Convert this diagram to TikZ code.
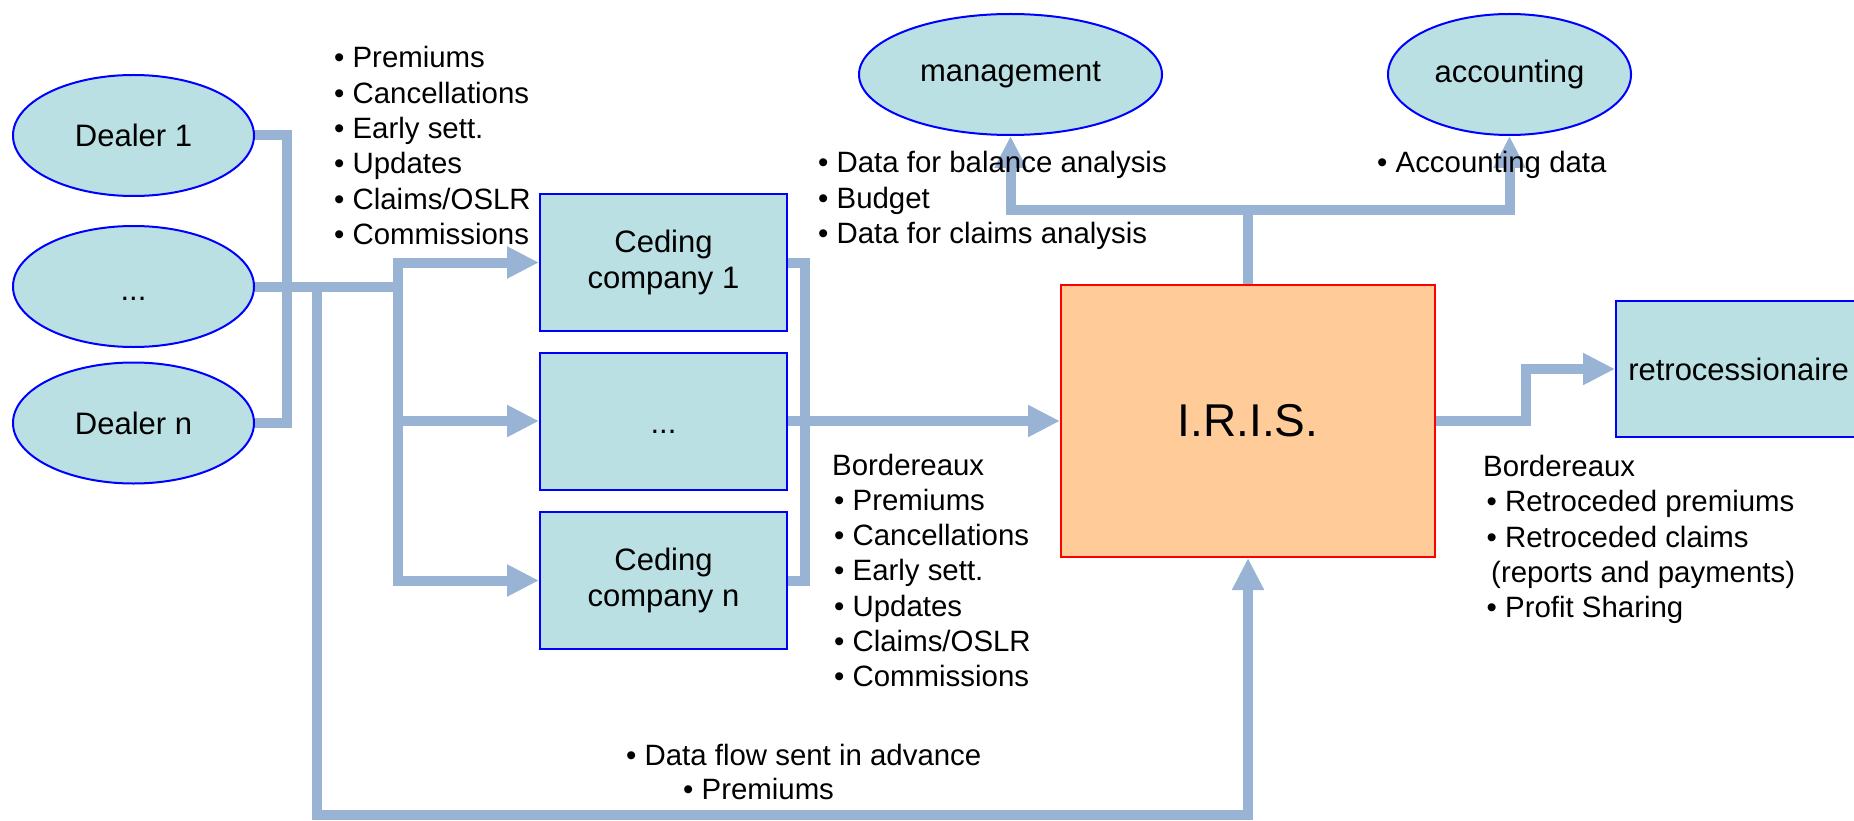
\documentclass[tikz,border=0pt]{standalone}
\usepackage{fontspec}
\setmainfont{Liberation Sans}
\usetikzlibrary{shapes.geometric,arrows.meta,backgrounds}
\definecolor{flowc}{RGB}{152,179,211}
\definecolor{cyanfill}{RGB}{186,224,227}
\definecolor{peach}{RGB}{255,204,153}
\newcommand\lblfont{\fontsize{31}{36}\selectfont}
\newcommand\lstfont{\fontsize{29.4}{35.3}\selectfont}
\tikzset{
  flow/.style={draw=flowc,line width=10pt,line cap=rect,line join=miter},
  flowarrow/.style={flow,-{Triangle[length=32pt,width=30pt]}},
  oval/.style={ellipse,draw=blue,line width=2pt,fill=cyanfill,inner sep=0pt,font=\lblfont},
  box/.style={rectangle,draw=blue,line width=2pt,fill=cyanfill,inner sep=0pt,align=center,font=\lblfont},
  lst/.style={anchor=base west,inner sep=0pt,font=\lstfont},
}
\begin{document}
\begin{tikzpicture}[x=1pt,y=-1pt]
\useasboundingbox (0,0) rectangle (1854,821);
% nodes
\node[oval,minimum width=241pt,minimum height=121pt] (d1) at (133.5,135.5) {Dealer 1};
\node[oval,minimum width=241pt,minimum height=121pt] (dm) at (133.5,286.5) {\strut\raisebox{-7pt}{...}};
\node[oval,minimum width=241pt,minimum height=121pt] (dn) at (133.5,423) {Dealer n};
\node[oval,minimum width=303pt,minimum height=121pt] (mg) at (1010.5,74.5) {management};
\node[oval,minimum width=243pt,minimum height=121pt] (ac) at (1509.5,74.5) {accounting};
\node[box,minimum width=247pt,minimum height=137pt] (c1) at (663.5,262.5) {Ceding\\company 1};
\node[box,minimum width=247pt,minimum height=137pt] (cm) at (663.5,421) {\strut\raisebox{-5pt}{...}};
\node[box,minimum width=247pt,minimum height=137pt] (cn) at (663.5,580.5) {Ceding\\company n};
\node[rectangle,draw=red,line width=2pt,fill=peach,inner sep=0pt,minimum width=374pt,minimum height=272pt,font=\fontsize{46}{50}\selectfont] (iris) at (1248,421) {I.R.I.S.};
\node[box,minimum width=245pt,minimum height=136pt] (retro) at (1738.5,369) {retrocessionaire};
% junction coordinates
\coordinate (jd) at (287,280);
\coordinate (jm) at (398,286.5);
\coordinate (jv1) at (398,262.5);
\coordinate (jv2) at (398,421);
\coordinate (jv3) at (398,580.5);
\coordinate (jb) at (317,286.5);
\coordinate (jb1) at (317,815);
\coordinate (jb2) at (1248,815);
\coordinate (jr) at (805,400);
\coordinate (jt) at (1248,210);
\coordinate (jx) at (1526,369);
\begin{pgfonlayer}{background}
\draw[flow] (d1.east) -| (jd) |- (dn.east);
\draw[flow] (dm.east) -- (jm);
\draw[flow] (jv1) -- (jv3);
\draw[flowarrow] (jv1) -- (c1.west);
\draw[flowarrow] (jv2) -- (cm.west);
\draw[flowarrow] (jv3) -- (cn.west);
\draw[flowarrow] (jb) -- (jb1) -- (jb2) -- (iris.south);
\draw[flow] (c1.east) -| (jr) |- (cn.east);
\draw[flowarrow] (cm.east) -- (iris.west);
\draw[flow] (iris.north) -- (jt);
\draw[flowarrow] (jt) -| (mg.south);
\draw[flowarrow] (jt) -| (ac.south);
\draw[flowarrow] (iris.east) -| (jx) -- (retro.west);
\end{pgfonlayer}
% text lists
\node[lst] (a1) at (334,68) {• Premiums};
\node[lst] (a2) at (334,103.3) {• Cancellations};
\node[lst] (a3) at (334,138.6) {• Early sett.};
\node[lst] (a4) at (334,173.9) {• Updates};
\node[lst] (a5) at (334,209.2) {• Claims/OSLR};
\node[lst] (a6) at (334,244.5) {• Commissions};
\node[lst] (m1) at (818,173) {• Data for balance analysis};
\node[lst] (m2) at (818,208.3) {• Budget};
\node[lst] (m3) at (818,243.6) {• Data for claims analysis};
\node[lst] (k1) at (1377,173) {• Accounting data};
\node[lst] (b0) at (832,475) {Bordereaux};
\node[lst] (b1) at (834,510.3) {• Premiums};
\node[lst] (b2) at (834,545.6) {• Cancellations};
\node[lst] (b3) at (834,580.9) {• Early sett.};
\node[lst] (b4) at (834,616.2) {• Updates};
\node[lst] (b5) at (834,651.5) {• Claims/OSLR};
\node[lst] (b6) at (834,686.8) {• Commissions};
\node[lst] (r0) at (1483,476.5) {Bordereaux};
\node[lst] (r1) at (1486.5,511.8) {• Retroceded premiums};
\node[lst] (r2) at (1486.5,547.1) {• Retroceded claims};
\node[lst] (r3) at (1491,582.4) {(reports and payments)};
\node[lst] (r4) at (1486.5,617.7) {• Profit Sharing};
\node[lst] (f1) at (626,765) {• Data flow sent in advance};
\node[lst] (f2) at (683,799) {• Premiums};
\end{tikzpicture}
\end{document}
